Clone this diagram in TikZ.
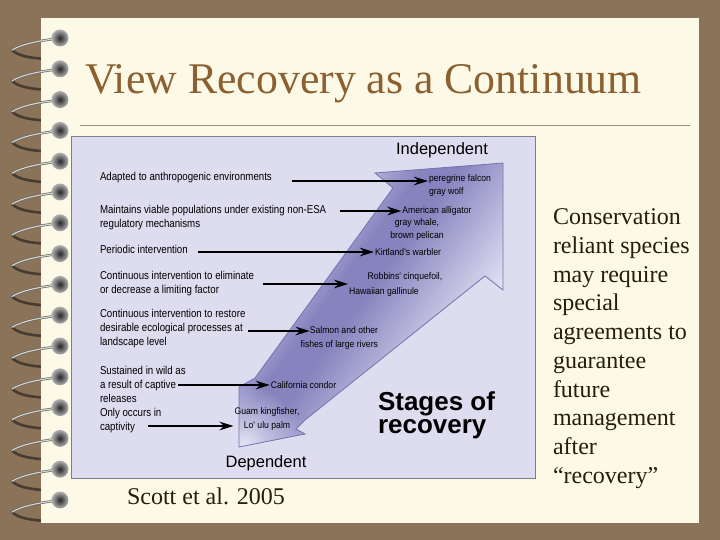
\documentclass[tikz,border=0pt]{standalone}
\usepackage{fontspec}
\setmainfont{Liberation Serif}
\newfontfamily\figfont[FakeStretch=0.85]{Liberation Sans}
\newfontfamily\spfont[FakeStretch=0.9]{Liberation Sans}
\newfontfamily\headfont{Liberation Sans}
\usepackage{tikz}
\usetikzlibrary{arrows.meta, shapes, positioning, calc, fadings}

\definecolor{backbrown}{RGB}{139,115,89}
\definecolor{paper}{RGB}{252,250,230}
\definecolor{titlebrown}{RGB}{140,96,48}
\definecolor{rulebrown}{RGB}{160,140,110}
\definecolor{figbg}{RGB}{222,220,239}
\definecolor{figborder}{RGB}{125,125,140}
\definecolor{arrowdark}{RGB}{134,131,190}
\definecolor{arrowmid}{RGB}{180,178,220}
\definecolor{arrowlight}{RGB}{230,229,245}
\definecolor{arrowedge}{RGB}{118,116,175}
\definecolor{textdark}{RGB}{40,28,12}
\definecolor{wiredark}{RGB}{70,60,50}
\definecolor{wirelight}{RGB}{215,215,205}

\tikzfading[name=tailfade, inner color=transparent!0, outer color=transparent!100]

\begin{document}
\begin{tikzpicture}[
			x=1pt, y=-1pt,
			every node/.style={
					inner sep=0pt,
					outer sep=0pt
				},
			stagelabel/.style={anchor=west, align=left, font=\figfont\fontsize{11.4}{14}\selectfont},
			species/.style={align=center, font=\spfont\fontsize{9.6}{13.5}\selectfont},
			stagearrow/.style={-{Stealth[length=14pt, width=8.5pt]}, line width=2.5pt, shorten >=1pt},
			wire/.style={line width=2.6pt, wiredark, line cap=round}
		]
		% page and paper
		\fill[backbrown] (0,0) rectangle (720,540);
		\foreach \k in {0,...,15} {
				\draw[wire] (12,{50+30.8*\k}) .. controls (18,{56+30.8*\k}) and (30,{58+30.8*\k}) .. (46,{59+30.8*\k});
			}
		\fill[paper] (41,18) rectangle (699,523);
		\foreach \k in {0,...,15} {
				\draw[line width=2.4pt, black!60, line cap=round] (54,{39+30.8*\k}) .. controls (38,{41+30.8*\k}) and (22,{44+30.8*\k}) .. (12,{50+30.8*\k});
				\draw[line width=1.1pt, wirelight, line cap=round] (54,{39+30.8*\k}) .. controls (38,{41+30.8*\k}) and (22,{44+30.8*\k}) .. (12,{50+30.8*\k});
				\shade[inner color=black!85, outer color=gray!60] (60,{38+30.8*\k}) circle (8.5);
			}

		\node[anchor=base west, font=\fontsize{43.8}{50}\selectfont, text=titlebrown] (title) at (85,94) {View Recovery as a Continuum};
		\draw[rulebrown, line width=1pt] (80,126) -- (690,126);

		% the figure
		\node[draw=figborder, fill=figbg, line width=0.8pt, minimum width=464pt, minimum height=342pt, anchor=north west] (fig) at (71,136) {};

		% big arrow, shaded in stripes across the shaft
		\begin{scope}
			\clip (503,163) -- (375,173) -- (393,188) -- (255,378) -- (239,387) -- (239,447) -- (305,434) -- (296,429) -- (305,420) -- (485,276) -- (503,290) -- cycle;
			\foreach \s in {396,400,...,584} {
					\pgfmathsetmacro\wa{max(0,min(100,(\s-400)*2.5))}
					\pgfmathsetmacro\wc{100-max(0,min(100,(\s-468)/1.1))}
					\fill[arrowdark!\wa!arrowmid!\wc!arrowlight]
					({0.809*\s+0.587*250},{0.587*\s-0.809*250}) -- ({0.809*\s-0.587*300},{0.587*\s+0.809*300}) --
					({0.809*(\s+4.6)-0.587*300},{0.587*(\s+4.6)+0.809*300}) -- ({0.809*(\s+4.6)+0.587*250},{0.587*(\s+4.6)-0.809*250}) -- cycle;
				}
			\fill[arrowlight, path fading=tailfade, fit fading=true] (244,445) circle (60);
		\end{scope}
		\draw[arrowedge, line width=0.8pt, line join=miter]
		(503,163) -- (375,173) -- (393,188) -- (255,378) -- (239,387) -- (239,447) -- (305,434) -- (296,429) -- (305,420) -- (485,276) -- (503,290) -- cycle;

		\node[font=\headfont\fontsize{16.5}{18}\selectfont] (indep) at (442,150) {Independent};
		\node[font=\headfont\fontsize{16.5}{18}\selectfont] (dep) at (266,463) {Dependent};
		\node[anchor=west, align=left, font=\headfont\bfseries\fontsize{26}{22.5}\selectfont] (stages) at (378,415.5) {Stages of\\recovery};

		\node[stagelabel] (adapted) at (100,178) {Adapted to anthropogenic environments};
		\node[stagelabel] (viable) at (100,217.5) {Maintains viable populations under existing non-ESA\\regulatory mechanisms};
		\node[stagelabel] (periodic) at (100,249) {Periodic intervention};
		\node[stagelabel] (eliminate) at (100,284) {Continuous intervention to eliminate\\or decrease a limiting factor};
		\node[stagelabel] (restore) at (100,329) {Continuous intervention to restore\\desirable ecological processes at\\landscape level};
		\node[stagelabel] (captive) at (100,384.5) {Sustained in wild as\\a result of captive\\releases};
		\node[stagelabel] (captivity) at (100,420.5) {Only occurs in\\captivity};

		\node[species, anchor=west, align=left] (falcon) at (429,185.5) {peregrine falcon\\gray wolf};
		\node[species] (alligator) at (437,211) {American alligator};
		\node[species] (whale) at (417,229.5) {gray whale,\\brown pelican};
		\node[species] (warbler) at (408,252) {Kirtland's warbler};
		\node[species] (cinquefoil) at (405,277) {Robbins' cinquefoil,};
		\node[species] (gallinule) at (384,292) {Hawaiian gallinule};
		\node[species, anchor=east, align=right] (salmon) at (378,338) {Salmon and other\\fishes of large rivers};
		\node[species] (condor) at (303.5,385) {California condor};
		\node[species] (kingfisher) at (267,419) {Guam kingfisher,\\Lo' ulu palm};

		\coordinate (t1) at (292,181);
		\coordinate (t2) at (340,211);
		\coordinate (t3) at (198,252);
		\coordinate (t4) at (263,284);
		\coordinate (t5) at (248,331);
		\coordinate (t6) at (178,385);
		\coordinate (t7) at (148,426);

		\draw[stagearrow] (t1) -- (t1 -| falcon.west);
		\draw[stagearrow] (t2) -- (t2 -| alligator.west);
		\draw[stagearrow] (t3) -- (t3 -| warbler.west);
		\draw[stagearrow] (t4) -- (t4 -| gallinule.west);
		\draw[stagearrow] (t5) -- ($(t5 -| salmon.west)+(10,0)$);
		\draw[stagearrow] (t6) -- (t6 -| condor.west);
		\draw[stagearrow] (t7) -- (t7 -| kingfisher.west);

		% side notes
		\node[anchor=base west, font=\fontsize{24}{28}\selectfont, text=textdark] (cite) at (127,504) {Scott et al. 2005};
		\node[anchor=north west, align=left, font=\fontsize{24}{28.7}\selectfont, text=textdark] (note) at (553,209) {Conservation\\reliant species\\may require\\special\\agreements to\\guarantee\\future\\management\\after\\“recovery”};
	\end{tikzpicture}
\end{document}
